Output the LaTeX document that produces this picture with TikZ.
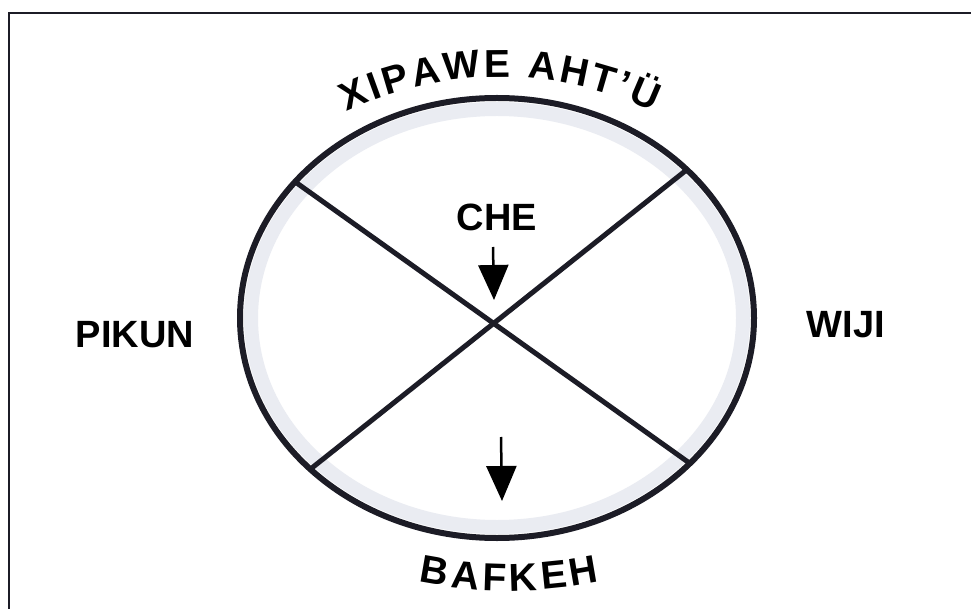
\documentclass[tikz,border=0pt]{standalone}
\usepackage{fontspec}
\setmainfont{Liberation Sans}
\usetikzlibrary{shapes.geometric,arrows.meta}
\definecolor{ink}{RGB}{28,28,38}
\definecolor{band}{RGB}{234,236,242}
\begin{document}
\begin{tikzpicture}[x=1pt,y=-1pt,
  lbl/.style={font=\fontsize{38}{40}\selectfont\bfseries, inner sep=0pt},
  toplbl/.style={font=\fontsize{39}{41}\selectfont\bfseries, inner sep=0pt, anchor=base},
  botlbl/.style={font=\fontsize{39}{41}\selectfont\bfseries, inner sep=0pt, anchor=base},
  spoke/.style={draw=ink, line width=5pt},
  downarrow/.style={draw=black, line width=2.5pt, -{Triangle[length=35pt,width=30pt]}}]
\useasboundingbox (0,0) rectangle (971,609);
\fill[white] (0,0) rectangle (971,609);
\draw[line width=2pt, ink] (9,609) -- (9,13) -- (971,13);
\draw[band, line width=14pt] (497,318) ellipse [x radius=246, y radius=209];
\node[draw=ink, line width=6pt, ellipse, minimum width=514pt, minimum height=440pt, inner sep=0pt, outer sep=0pt] (ring) at (497,318) {};
\draw[spoke] (ring.146.5) -- (ring.-37.2);
\draw[spoke] (ring.38.2) -- (ring.219.8);
\node[lbl] (che) at (497,217) {CHE};
\node[lbl] (pikun) at (135,335) {PIKUN};
\node[lbl] (wiji) at (846,325) {WIJI};
\coordinate (cheA) at (493,247);
\coordinate (cheB) at (494,300);
\draw[downarrow] (cheA) -- (cheB);
\coordinate (bafA) at (501,437);
\coordinate (bafB) at (502,501);
\draw[downarrow] (bafA) -- (bafB);
\foreach \i/\c/\t in {1/X/-23.34,2/I/-19.90,3/P/-16.47,4/A/-11.62,5/W/-5.92,6/E/-0.40,7/A/6.64,8/H/11.65,9/T/16.31,10/{\textquoteright}/19.56,11/Ü/23.17}
  \node[toplbl, rotate={-1*(\t)}] (top\i) at ({500+357*sin(\t)},{434-357*cos(\t)}) {\c};
\foreach \i/\c/\t in {1/B/-9.83,2/A/-5.73,3/F/-1.91,4/K/1.91,5/E/5.87,6/H/9.83}
  \node[botlbl, rotate={\t}] (bot\i) at ({509+450*sin(\t)},{141+450*cos(\t)}) {\c};
\end{tikzpicture}
\end{document}
